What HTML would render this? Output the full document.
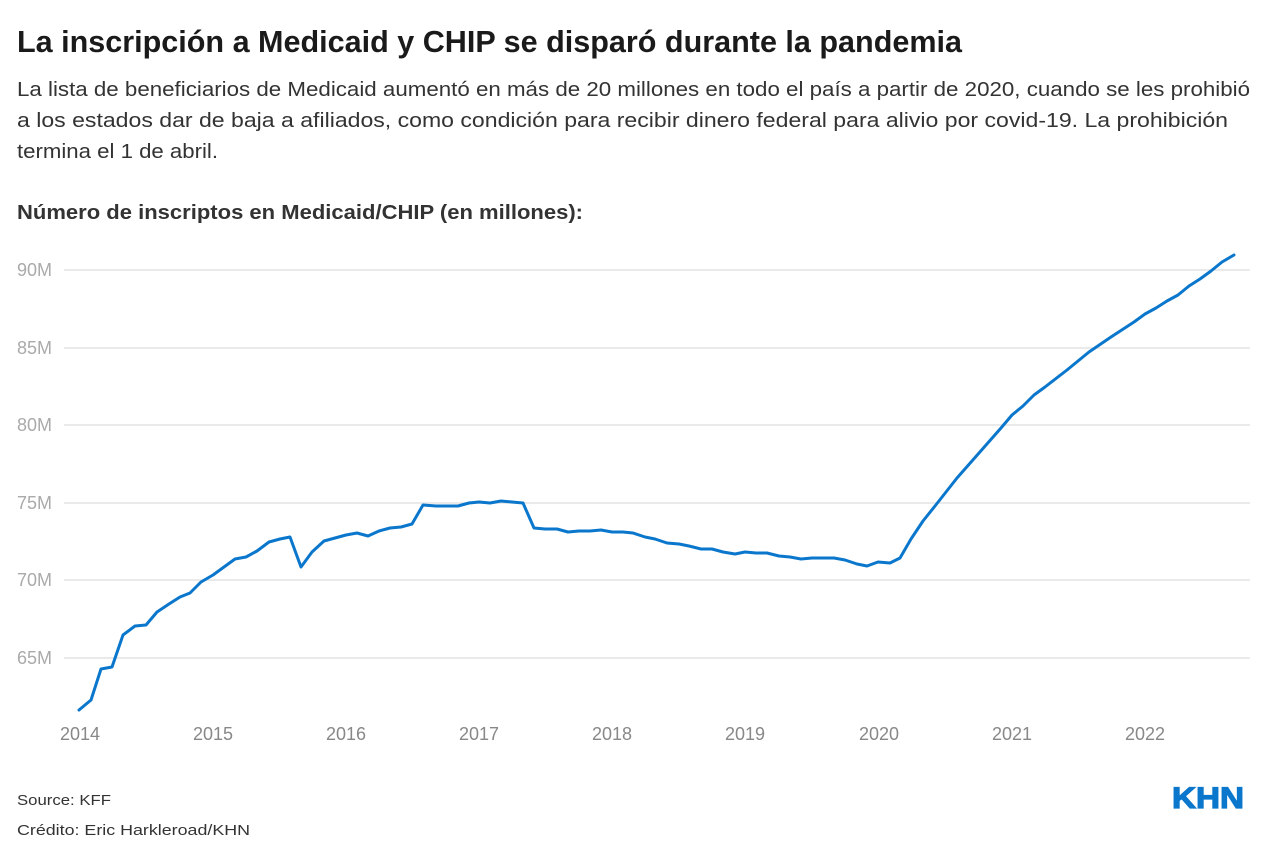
<!DOCTYPE html>
<html><head><meta charset="utf-8"><style>
html,body{margin:0;padding:0;background:#fff}
svg{display:block}
text{font-family:"Liberation Sans",sans-serif}
</style></head><body>
<svg width="1269" height="856" viewBox="0 0 1269 856" xmlns="http://www.w3.org/2000/svg">
<text x="17" y="52" font-size="31" font-weight="bold" fill="#1a1a1a" textLength="945" lengthAdjust="spacingAndGlyphs">La inscripción a Medicaid y CHIP se disparó durante la pandemia</text>
<g font-size="20" fill="#333">
<text x="17" y="96" textLength="1233" lengthAdjust="spacingAndGlyphs">La lista de beneficiarios de Medicaid aumentó en más de 20 millones en todo el país a partir de 2020, cuando se les prohibió</text>
<text x="17" y="127" textLength="1211" lengthAdjust="spacingAndGlyphs">a los estados dar de baja a afiliados, como condición para recibir dinero federal para alivio por covid-19. La prohibición</text>
<text x="17" y="158" textLength="201" lengthAdjust="spacingAndGlyphs">termina el 1 de abril.</text>
</g>
<text x="17" y="219" font-size="20" font-weight="bold" fill="#333" textLength="566" lengthAdjust="spacingAndGlyphs">Número de inscriptos en Medicaid/CHIP (en millones):</text>
<g stroke="#e3e3e3" stroke-width="1.5">
<line x1="64" x2="1250" y1="270" y2="270"/><line x1="64" x2="1250" y1="348" y2="348"/>
<line x1="64" x2="1250" y1="425" y2="425"/><line x1="64" x2="1250" y1="503" y2="503"/>
<line x1="64" x2="1250" y1="580" y2="580"/><line x1="64" x2="1250" y1="658" y2="658"/>
</g>
<g font-size="18" fill="#aaa">
<text x="17" y="276">90M</text><text x="17" y="354">85M</text><text x="17" y="431">80M</text>
<text x="17" y="509">75M</text><text x="17" y="586">70M</text><text x="17" y="664">65M</text>
</g>
<g font-size="18" fill="#888" text-anchor="middle">
<text x="80" y="740">2014</text><text x="213" y="740">2015</text><text x="346" y="740">2016</text>
<text x="479" y="740">2017</text><text x="612" y="740">2018</text><text x="745" y="740">2019</text>
<text x="879" y="740">2020</text><text x="1012" y="740">2021</text><text x="1145" y="740">2022</text>
</g>
<polyline fill="none" stroke="#0a77cc" stroke-width="3" stroke-linejoin="round" stroke-linecap="round" points="79,710 91,700 101,669 112,667 123,635 135,626 146,625 157,612 169,604 180,597 190,593 201,582 213,575 224,567 235,559 246,557 257,551 269,542 280,539 290,537 301,567 312,552 324,541 335,538 346,535 357,533 368,536 379,531 390,528 401,527 412,524 423,505 436,506 449,506 458,506 469,503 479,502 490,503 501,501 512,502 523,503 534,528 545,529 557,529 568,532 579,531 590,531 601,530 612,532 623,532 633,533 645,537 655,539 667,543 679,544 689,546 701,549 712,549 723,552 735,554 745,552 756,553 767,553 779,556 790,557 801,559 812,558 823,558 834,558 845,560 857,564 867,566 878,562 890,563 900,558 911,539 923,521 935,506 957,478 979,453 1001,428 1012,415 1023,406 1034,395 1045,387 1067,370 1089,352 1111,337 1134,322 1145,314 1156,308 1167,301 1178,295 1189,286 1200,279 1211,271 1222,262 1234,255"/>
<text x="17" y="805" font-size="15" fill="#333" textLength="94" lengthAdjust="spacingAndGlyphs">Source: KFF</text>
<text x="17" y="835" font-size="15" fill="#333" textLength="233" lengthAdjust="spacingAndGlyphs">Crédito: Eric Harkleroad/KHN</text>
<text x="1172" y="808" font-size="30" font-weight="bold" fill="#0a77cc" stroke="#0a77cc" stroke-width="1.2" textLength="72" lengthAdjust="spacingAndGlyphs">KHN</text>
</svg>
</body></html>
